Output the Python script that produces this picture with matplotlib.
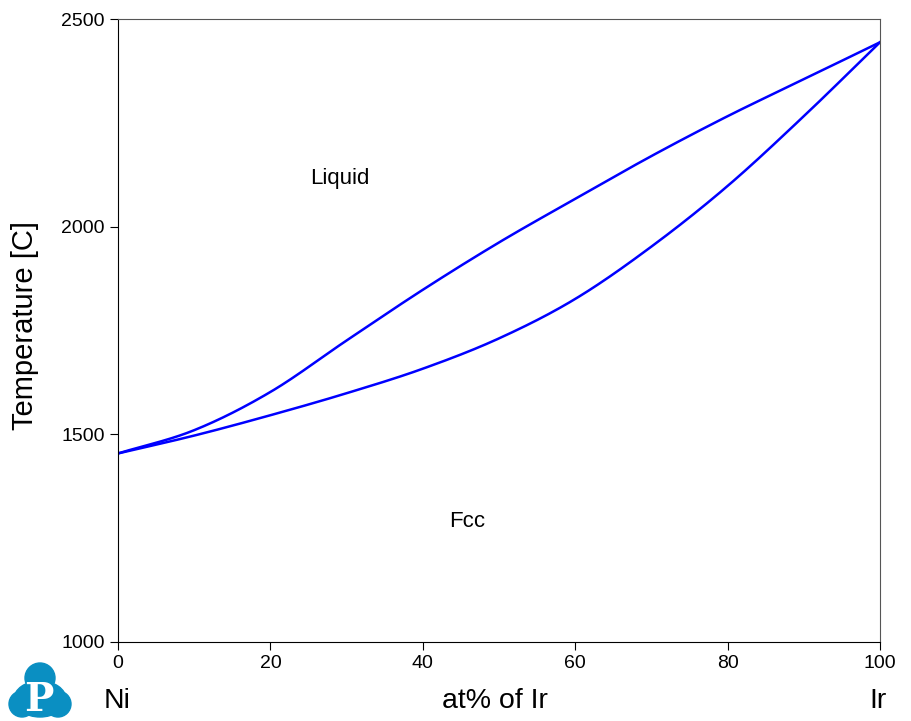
import numpy as np
import matplotlib.pyplot as plt
from matplotlib.patches import Circle, Ellipse

plt.rcParams['font.family'] = ['Liberation Sans', 'DejaVu Sans']

# Ni-Ir phase diagram
x_ir = [0, 10, 20, 30, 40, 50, 60, 70, 80, 90, 100]
liquidus = [1454, 1510, 1602, 1726, 1848, 1962, 2067, 2170, 2266, 2355, 2444]
solidus = [1454, 1497, 1546, 1599, 1658, 1731, 1826, 1952, 2098, 2266, 2444]


def smooth(xp, yp, xs):
    # cubic hermite through the read points (finite-difference slopes)
    xp = np.asarray(xp, float)
    yp = np.asarray(yp, float)
    m = np.gradient(yp, xp)
    i = np.clip(np.searchsorted(xp, xs) - 1, 0, len(xp) - 2)
    h = xp[i + 1] - xp[i]
    t = (xs - xp[i]) / h
    h00 = 2*t**3 - 3*t**2 + 1
    h10 = t**3 - 2*t**2 + t
    h01 = -2*t**3 + 3*t**2
    h11 = t**3 - t**2
    return h00*yp[i] + h10*h*m[i] + h01*yp[i + 1] + h11*h*m[i + 1]


fig = plt.figure(figsize=(9.12, 7.21), dpi=100)
ax = fig.add_axes([118/912, 1 - 642/721, (880 - 118)/912, (642 - 19)/721])

xs = np.linspace(0, 100, 401)
ax.plot(xs, smooth(x_ir, liquidus, xs), color='#0000ff', lw=1.8)
ax.plot(xs, smooth(x_ir, solidus, xs), color='#0000ff', lw=1.8)

ax.set_xlim(0, 100)
ax.set_ylim(1000, 2500)
ax.set_xticks([0, 20, 40, 60, 80, 100])
ax.set_yticks([1000, 1500, 2000, 2500])
ax.tick_params(direction='out', length=6, labelsize=14)
ax.spines['top'].set_color('#555555')
ax.spines['right'].set_color('#555555')

fig.text(25/912, 1 - 326/721, 'Temperature [C]', fontsize=21, rotation=90,
         ha='center', va='center')

ax.text(25.2, 2115, 'Liquid', fontsize=16, va='center')
ax.text(43.5, 1290, 'Fcc', fontsize=16, va='center')

fig.text(104/912, 1 - 701/721, 'Ni', fontsize=20.5, va='center')
fig.text(495/912, 1 - 701/721, 'at% of Ir', fontsize=20.5, va='center', ha='center')
fig.text(869/912, 1 - 701/721, 'Ir', fontsize=20.5, va='center')

# logo
logo = fig.add_axes([0, 0, 1, 1], zorder=-1)
logo.set_xlim(0, 912)
logo.set_ylim(721, 0)
logo.axis('off')
blue = '#0a8fc2'
for cx, cy, r in [(40, 678, 15), (22, 704, 13), (58, 704, 13)]:
    logo.add_patch(Circle((cx, cy), r, color=blue))
logo.add_patch(Ellipse((40, 699), 52, 36, color=blue))
logo.text(39, 700, 'P', color='white', fontsize=28, fontweight='bold',
          family='DejaVu Serif', ha='center', va='center')

fig.savefig('out.png', dpi=100)
